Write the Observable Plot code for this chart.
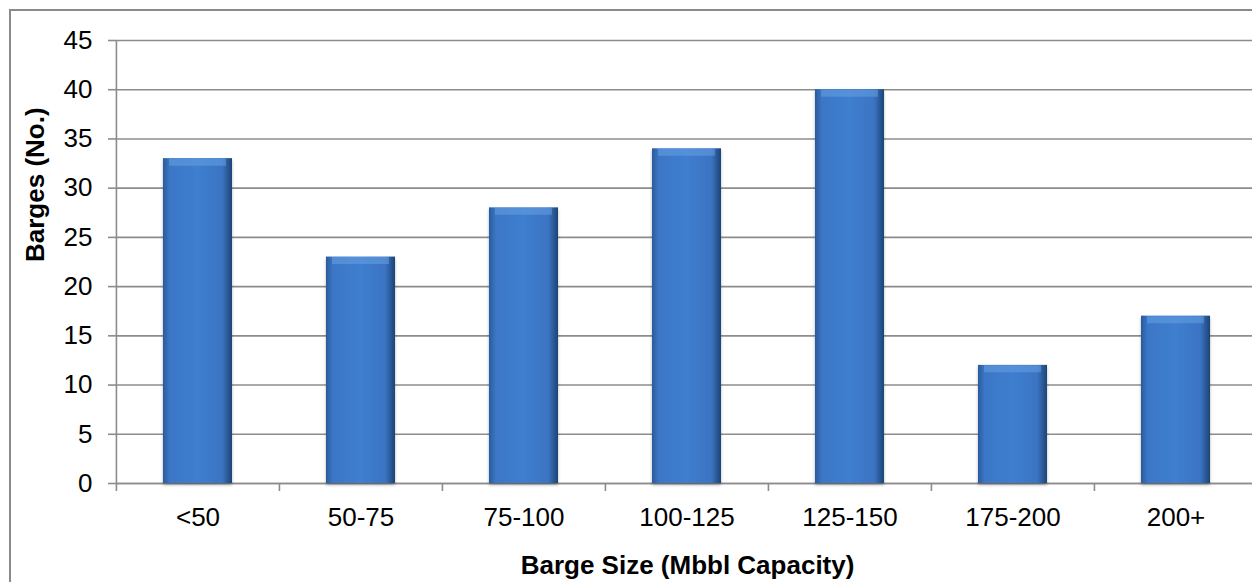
<!DOCTYPE html>
<html>
<head>
<meta charset="utf-8">
<script src="https://cdn.jsdelivr.net/npm/d3@7"></script>
<script src="https://cdn.jsdelivr.net/npm/@observablehq/plot@0.6"></script>
<style>
  html, body { margin: 0; padding: 0; background: #fff; overflow: hidden; width: 1252px; height: 582px; }
  #chart { position: absolute; left: 0; top: 0; width: 1252px; height: 582px; overflow: hidden; }
  #chart svg { max-width: none !important; width: 1260px; height: 582px; }
</style>
</head>
<body>
<div id="chart"></div>
<script>
const categories = ["<50", "50-75", "75-100", "100-125", "125-150", "175-200", "200+"];
const barges = [33, 23, 28, 34, 40, 12, 17];
const yTicks = [0, 5, 10, 15, 20, 25, 30, 35, 40, 45];
const xTitle = "Barge Size (Mbbl Capacity)";
const yTitle = "Barges (No.)";

const data = categories.map((c, i) => ({category: c, value: barges[i]}));

const W = 1260, H = 582;
const mL = 116, mR = 2, mT = 40, mB = 99;
const bw = (W - mL - mR) / categories.length;
const gray = "#8c8c8c";

const plot = Plot.plot({
  width: W,
  height: H,
  marginLeft: mL,
  marginRight: mR,
  marginTop: mT,
  marginBottom: mB,
  style: {fontFamily: "'Liberation Sans', Arial, sans-serif", fontSize: "26px", color: "#000", background: "transparent", overflow: "visible", maxWidth: "none"},
  x: {domain: categories, paddingInner: 0.575, paddingOuter: 0.2875, label: null},
  y: {domain: [0, 45], label: null},
  marks: [
    Plot.gridY(yTicks, {stroke: gray, strokeOpacity: 1, strokeWidth: 1.6}),
    Plot.axisY(yTicks, {tickSize: 8, tickPadding: 16, stroke: gray, strokeWidth: 1.6, fill: "#000", fontSize: 26, label: null}),
    Plot.axisX({tickSize: 0, tickPadding: 24, fill: "#000", fontSize: 26, label: null}),
    Plot.ruleX(categories, {x: d => d, dx: -bw / 2, y1: 0, y2: 0, insetBottom: -8, stroke: gray, strokeWidth: 1.6}),
    Plot.ruleX([categories[0]], {x: d => d, dx: -bw / 2, y1: 0, y2: 45, stroke: gray, strokeWidth: 1.6}),
    Plot.ruleY([0], {stroke: gray, strokeWidth: 1.6}),
    Plot.barY(data, {x: "category", y: "value", fill: "url(#barGrad)", className: "bars"}),
    Plot.tickY(data, {x: "category", y: "value", stroke: "#6aa3e6", strokeOpacity: 0.5, strokeWidth: 7, dy: 3.5, inset: 6}),
    Plot.text([yTitle], {frameAnchor: "left", dx: -81, rotate: -90, lineAnchor: "middle", fontWeight: "bold", fontSize: 26, fill: "#000", text: d => d}),
    Plot.text([xTitle], {frameAnchor: "bottom", dy: 82, lineAnchor: "middle", fontWeight: "bold", fontSize: 26, fill: "#000", text: d => d})
  ]
});

const svg = d3.select(plot);
const defs = svg.insert("defs", ":first-child");
const g = defs.append("linearGradient").attr("id", "barGrad").attr("x1", "0").attr("x2", "1").attr("y1", "0").attr("y2", "0");
[["0%", "#2a5b9c"], ["10%", "#3b77c6"], ["50%", "#3f7ecf"], ["86%", "#3a74c2"], ["100%", "#1d4475"]]
  .forEach(([o, c]) => g.append("stop").attr("offset", o).attr("stop-color", c));
const f = defs.append("filter").attr("id", "shadow").attr("x", "-10%").attr("y", "-10%").attr("width", "120%").attr("height", "120%");
f.append("feDropShadow").attr("dx", 0).attr("dy", 2).attr("stdDeviation", 1.5).attr("flood-color", "#000").attr("flood-opacity", 0.3);
svg.selectAll("g.bars").attr("filter", "url(#shadow)");
// outer chart-area border (extends past the cropped right and bottom edges)
svg.append("rect").attr("x", 10).attr("y", 10).attr("width", 2000).attr("height", 2000)
  .attr("fill", "none").attr("stroke", "#8a8a8a").attr("stroke-width", 2);

document.getElementById("chart").appendChild(plot);
</script>
</body>
</html>
